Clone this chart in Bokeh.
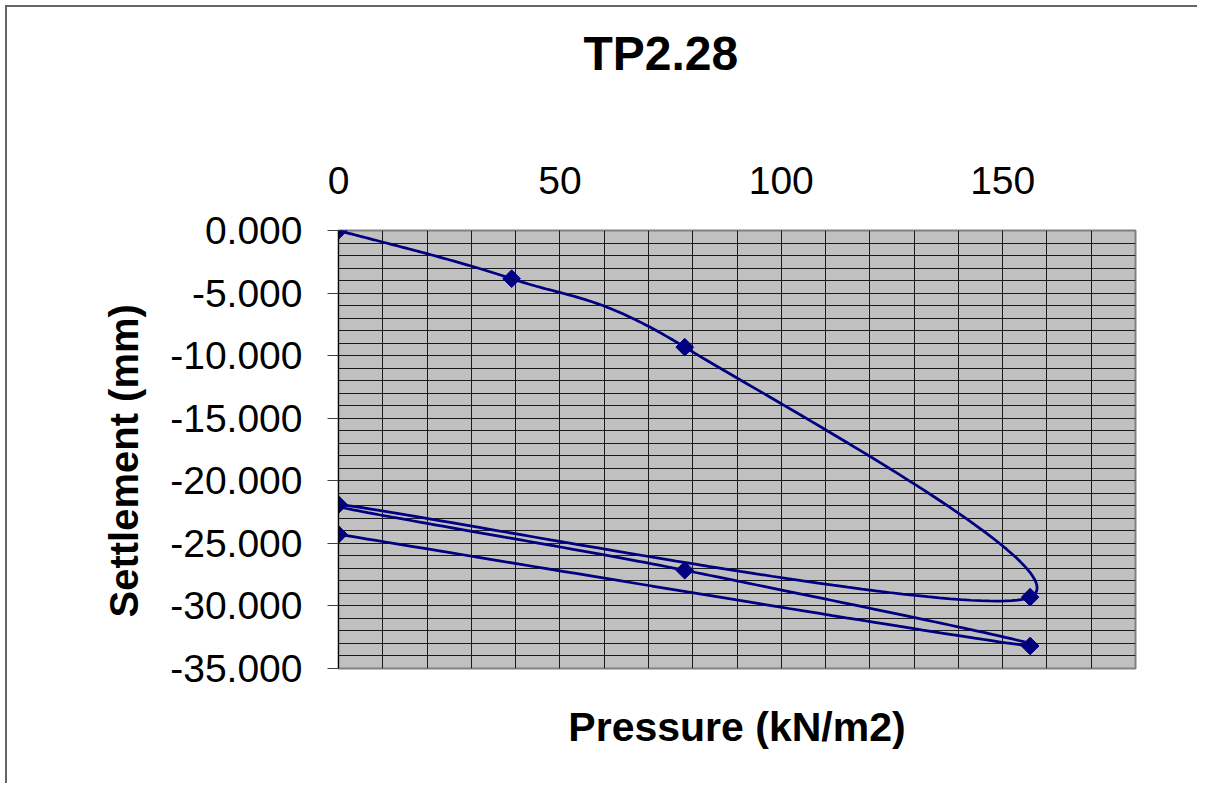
import numpy as np
from bokeh.plotting import figure
from bokeh.models import Range1d, FixedTicker, PrintfTickFormatter, Title
from bokeh.embed import file_html
from bokeh.resources import INLINE

# ---- data ----
pressure = [0.0, 39.1, 78.2, 156.2, 0.0, 78.2, 156.2, 0.0]
settlement = [0.0, -3.85, -9.32, -29.3, -21.9, -27.15, -33.2, -24.28]
x_ticks = [0, 50, 100, 150]
x_minor = list(range(0, 181, 10))
y_ticks = [0, -5, -10, -15, -20, -25, -30, -35]
y_minor = list(range(-35, 1))
chart_title = "TP2.28"
x_title = "Pressure (kN/m2)"
y_title = "Settlement (mm)"

FONT = "Liberation Sans"
NAVY = "#000080"


def smooth(xs, ys, n=60):
    """Excel-like smoothed line: cubic Bezier with Catmull-Rom tangents (1/6)."""
    P = np.column_stack([xs, ys]).astype(float)
    m = len(P)
    outx, outy = [P[0, 0]], [P[0, 1]]
    t = np.linspace(0, 1, n)[1:]
    for i in range(m - 1):
        p0 = P[max(i - 1, 0)]
        p1 = P[i]
        p2 = P[i + 1]
        p3 = P[min(i + 2, m - 1)]
        c1 = p1 + (p2 - p0) / 6.0
        c2 = p2 - (p3 - p1) / 6.0
        b = ((1 - t) ** 3)[:, None] * p1 + (3 * (1 - t) ** 2 * t)[:, None] * c1 \
            + (3 * (1 - t) * t ** 2)[:, None] * c2 + (t ** 3)[:, None] * p2
        outx.extend(b[:, 0])
        outy.extend(b[:, 1])
    return outx, outy


sx, sy = smooth(pressure, settlement)

p = figure(width=1197, height=783, output_backend="svg", toolbar_location=None,
           x_range=Range1d(0, 180), y_range=Range1d(-35, 0),
           x_axis_location="above", tools="")
p.min_border_left = 338
p.min_border_right = 62
p.min_border_top = 230
p.min_border_bottom = 115
p.background_fill_color = "#C0C0C0"
p.border_fill_color = None
p.outline_line_color = "#808080"
p.outline_line_width = 2
# chart-area border (top and left edges) drawn behind the transparent canvas
p.styles = {
    "background": "linear-gradient(#666666, #666666) 5px 5px / 2px 100% no-repeat, "
                  "linear-gradient(#666666, #666666) 5px 5px / 100% 2px no-repeat, white"
}

# title (the empty second line keeps it high above the tick labels)
p.title = Title(text=chart_title + "\n", align="left", offset=245, standoff=0,
                text_line_height=1.57,
                text_font=FONT, text_font_size="48px", text_font_style="bold",
                text_color="black")

# x axis (top)
xa = p.xaxis[0]
xa.ticker = FixedTicker(ticks=x_ticks, minor_ticks=x_minor)
xa.major_tick_out = 0
xa.major_tick_in = 0
xa.minor_tick_out = 0
xa.minor_tick_in = 0
xa.axis_line_color = None
xa.major_label_standoff = 37
xa.major_label_text_font = FONT
xa.major_label_text_font_size = "39px"
xa.major_label_text_color = "black"

# y axis (left)
ya = p.yaxis[0]
ya.ticker = FixedTicker(ticks=y_ticks, minor_ticks=y_minor)
ya.formatter = PrintfTickFormatter(format="%.3f")
ya.major_tick_out = 11
ya.major_tick_in = 0
ya.minor_tick_out = 0
ya.minor_tick_in = 0
ya.major_tick_line_color = "#404040"
ya.axis_line_color = "black"
ya.major_label_standoff = 25
ya.major_label_text_font = FONT
ya.major_label_text_font_size = "39px"
ya.major_label_text_color = "black"

# y axis title (left), placed a little below the frame centre like the reference
p.add_layout(Title(text=y_title, align="left", offset=51, standoff=44,
                   text_font=FONT, text_font_size="40px", text_font_style="bold",
                   text_color="black"), "left")

# bottom title (x axis title)
p.add_layout(Title(text=x_title, align="center", standoff=66,
                   text_font=FONT, text_font_size="41px", text_font_style="bold",
                   text_color="black"), "below")

# grids
for g in (p.xgrid[0], p.ygrid[0]):
    g.grid_line_color = "#1a1a1a"
    g.minor_grid_line_color = "#1a1a1a"
    g.grid_line_width = 1
    g.minor_grid_line_width = 1

p.line(sx, sy, line_color=NAVY, line_width=2.75)
p.scatter(pressure, settlement, marker="square", angle=np.pi / 4, size=12.5,
          fill_color=NAVY, line_color=NAVY)

open("out.html", "w").write(file_html(p, INLINE))
